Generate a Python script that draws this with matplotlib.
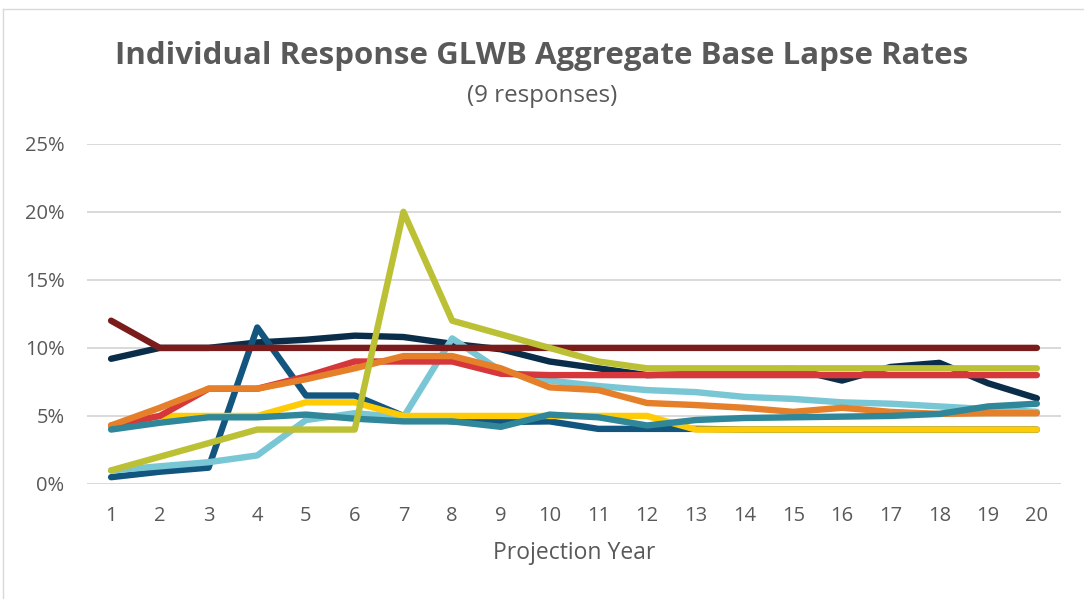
import matplotlib.pyplot as plt
from matplotlib.lines import Line2D

years = list(range(1, 21))

# lapse rates in percent
navy = [9.2, 10.0, 10.0, 10.4, 10.6, 10.9, 10.8, 10.3, 9.9, 9.0, 8.5, 8.0, 8.1, 8.4, 8.45, 7.6, 8.6, 8.9, 7.4, 6.3]
dark_blue = [0.5, 0.9, 1.2, 11.5, 6.5, 6.5, 5.0, 4.6, 4.55, 4.6, 4.05, 4.05, 4.05, 4.0, 4.0, 4.0, 4.0, 4.0, 4.0, 4.0]
light_blue = [1.0, 1.3, 1.6, 2.1, 4.7, 5.2, 4.9, 10.7, 8.3, 7.6, 7.2, 6.9, 6.75, 6.4, 6.25, 6.0, 5.9, 5.7, 5.5, 5.3]
yellow = [4.2, 5.0, 5.0, 5.0, 6.0, 6.0, 5.0, 5.0, 5.0, 5.0, 5.0, 5.0, 4.0, 4.0, 4.0, 4.0, 4.0, 4.0, 4.0, 4.0]
red = [4.3, 5.0, 7.0, 7.0, 7.9, 9.0, 9.0, 9.0, 8.1, 8.0, 8.0, 8.0, 8.0, 8.0, 8.0, 8.0, 8.0, 8.0, 8.0, 8.0]
orange = [4.3, 5.6, 7.0, 7.0, 7.7, 8.5, 9.4, 9.4, 8.5, 7.1, 6.9, 5.95, 5.8, 5.6, 5.3, 5.6, 5.3, 5.15, 5.2, 5.2]
teal = [4.0, 4.5, 4.9, 4.9, 5.1, 4.8, 4.6, 4.6, 4.2, 5.1, 4.9, 4.3, 4.7, 4.85, 4.9, 4.95, 5.0, 5.15, 5.7, 5.9]
dark_red = [12.0, 10.0, 10.0, 10.0, 10.0, 10.0, 10.0, 10.0, 10.0, 10.0, 10.0, 10.0, 10.0, 10.0, 10.0, 10.0, 10.0, 10.0, 10.0, 10.0]
olive = [1.0, 2.0, 3.0, 4.0, 4.0, 4.0, 20.0, 12.0, 11.0, 10.0, 9.0, 8.5, 8.5, 8.5, 8.5, 8.5, 8.5, 8.5, 8.5, 8.5]

series = [navy, dark_blue, light_blue, yellow, red, orange, teal, dark_red, olive]
colors = ["#0A2D4A", "#12557F", "#79C6D5", "#FFCB05", "#D6373B", "#E57F29", "#2F8799", "#7B1C1C", "#BCC034"]

yticks = [0, 5, 10, 15, 20, 25]
ytick_labels = ["0%", "5%", "10%", "15%", "20%", "25%"]

grey = "#595959"
plt.rcParams['font.family'] = ['Open Sans', 'DejaVu Sans']

fig = plt.figure(figsize=(10.84, 5.99), dpi=100)
ax = fig.add_axes([0.080, 0.192, 0.899, 0.568])

for vals, c in zip(series, colors):
    ax.plot(years, vals, color=c, lw=4.6, solid_capstyle='round', solid_joinstyle='round', zorder=3)

ax.set_xlim(0.5, 20.5)
ax.set_ylim(0, 25)
ax.set_xticks(years)
ax.set_xticklabels([str(y) for y in years])
ax.set_yticks(yticks)
ax.set_yticklabels(ytick_labels)
ax.grid(axis='y', color="#D9D9D9", lw=1.4, zorder=0)
for s in ax.spines.values():
    s.set_visible(False)
ax.tick_params(length=0, labelsize=14.5, labelcolor=grey)
ax.tick_params(axis='x', pad=16)
ax.tick_params(axis='y', pad=16)
ax.set_xlabel("Projection Year", fontsize=16.5, color=grey, labelpad=11)

fig.text(0.5, 0.906, "Individual Response GLWB Aggregate Base Lapse Rates",
         ha='center', va='center', fontsize=22.5, fontweight='bold', color=grey)
fig.text(0.5, 0.840, "(9 responses)", ha='center', va='center', fontsize=17.4, color=grey)

# chart area border
fig.add_artist(Line2D([0.003, 0.003], [0, 0.985], color="#D9D9D9", lw=1, transform=fig.transFigure))
fig.add_artist(Line2D([0.003, 1.0], [0.985, 0.985], color="#D9D9D9", lw=1, transform=fig.transFigure))

fig.savefig("out.png", dpi=100)
